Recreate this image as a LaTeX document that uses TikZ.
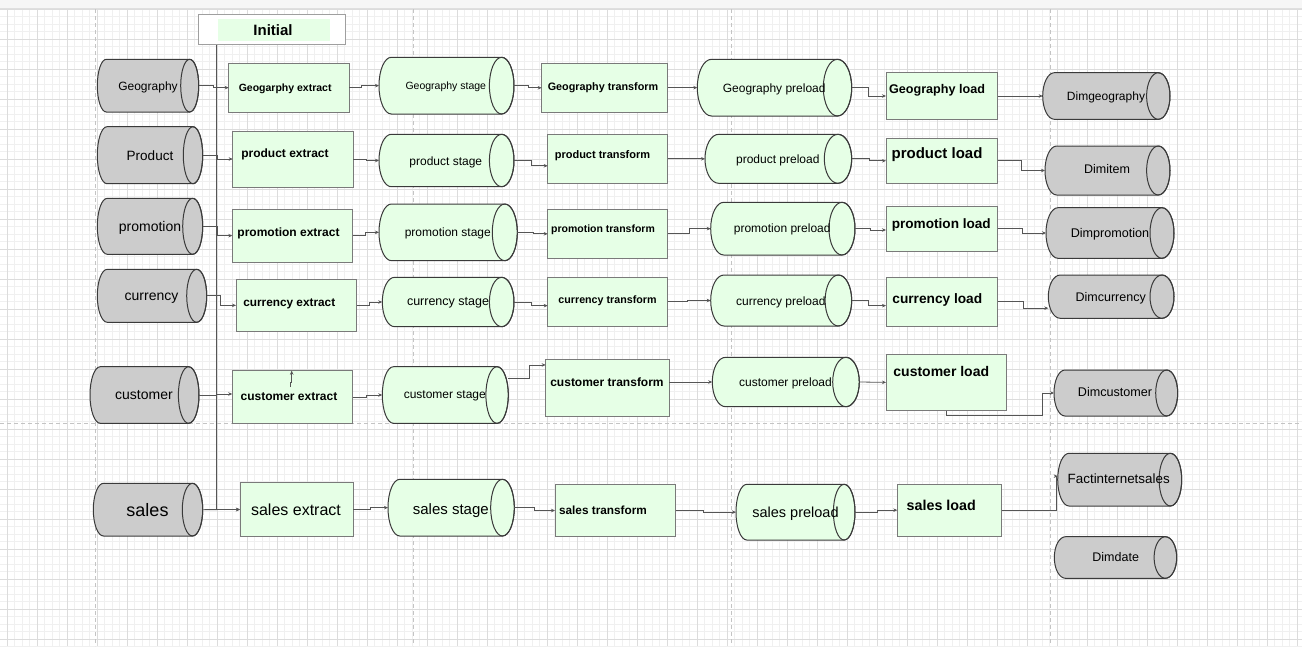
\documentclass[tikz,border=0pt]{standalone}
\usepackage{fontspec}
\setmainfont{Liberation Sans}
\usetikzlibrary{arrows.meta}
\definecolor{cylgray}{HTML}{CCCCCC}
\definecolor{mint}{HTML}{E6FFE6}
\definecolor{edgedark}{HTML}{3A3A3A}
\definecolor{boxedge}{HTML}{7A7A7A}
\definecolor{wire}{HTML}{555555}
\definecolor{gridminor}{HTML}{F0F0F0}
\definecolor{gridmajor}{HTML}{DCDCDC}
\definecolor{pagebreak}{HTML}{C4C4C4}
\newcommand{\fz}[1]{\fontsize{#1}{#1}\selectfont}
\newcommand{\mycyl}[7]{%
  \filldraw[cylline, fill=#7] (#2+#6,#3) -- (#4-#6,#3)
    arc[start angle=270, end angle=450, x radius=#6, y radius={(#5-#3)/2}]
    -- (#2+#6,#5)
    arc[start angle=90, end angle=270, x radius=#6, y radius={(#5-#3)/2}] -- cycle;
  \draw[cylline] (#4-#6,{(#3+#5)/2}) ellipse[x radius=#6, y radius={(#5-#3)/2}];
  \node[cylframe, minimum width={#4-#2}, minimum height={#5-#3}] (#1) at ({(#2+#4)/2},{(#3+#5)/2}) {};
}
\tikzset{
  cylline/.style={draw=edgedark, line width=1pt},
  cylframe/.style={draw=none, rectangle, inner sep=0pt, outer sep=0pt},
  procbox/.style={draw=boxedge, fill=mint, line width=1pt, rectangle, inner sep=0pt, outer sep=0pt},
  lbl/.style={inner sep=0pt, outer sep=0pt, text depth=0pt, anchor=center, text=black},
  conn/.style={draw=wire, line width=0.8pt, -{Stealth[length=4pt,width=3.5pt]}},
  minorline/.style={draw=gridminor, line width=0.6pt},
  majorline/.style={draw=gridmajor, line width=0.8pt},
  breakline/.style={draw=pagebreak, line width=1pt, dash pattern=on 4pt off 3pt}
}
\begin{document}
\begin{tikzpicture}[x=1pt,y=-1pt]
\useasboundingbox (0,0) rectangle (1302,646);
\fill[white] (0,0) rectangle (1302,646);
% grid
\foreach \k in {0,...,174} \draw[minorline] ({-0.5+7.5*\k},9) -- ({-0.5+7.5*\k},646);
\foreach \k in {0,...,85} \draw[minorline] (0,{9+7.5*\k}) -- (1302,{9+7.5*\k});
\foreach \k in {0,...,43} \draw[majorline] ({7+30*\k},9) -- ({7+30*\k},646);
\foreach \k in {0,...,21} \draw[majorline] (0,{9+30*\k}) -- (1302,{9+30*\k});
\fill[gray!7] (0,0) rectangle (1302,8.5);
\draw[gray!25, line width=0.8pt] (0,8.5) -- (1302,8.5);
% page breaks
\foreach \xx in {95,413,731,1050} \draw[breakline] (\xx,9) -- (\xx,646);
\draw[breakline] (0,423) -- (1302,423);

% Initial
\node[draw=gray!75, fill=white, line width=1.2pt, inner sep=0pt, minimum width=146.6, minimum height=30] (ini) at (272,29.3) {};
\fill[mint] (218.3,19.3) rectangle (330,40.7);
\node[lbl, font=\fz{15}\bfseries] (iniT) at (273,30) {Initial};

% source cylinders
\mycyl{srcGeo}{97.3}{59.3}{198.7}{112}{9}{cylgray}
\mycyl{srcPrd}{97.3}{126.7}{202.7}{183.7}{9.7}{cylgray}
\mycyl{srcPrm}{97.3}{198.3}{202.7}{254.3}{10}{cylgray}
\mycyl{srcCur}{97.3}{269.3}{206.7}{322.3}{10}{cylgray}
\mycyl{srcCus}{90}{366.7}{199}{423.3}{10.3}{cylgray}
\mycyl{srcSal}{93.3}{483.3}{202.7}{536}{10.2}{cylgray}
\node[lbl, font=\fz{12}] (srcGeoT) at (148,86) {Geography};
\node[lbl, font=\fz{13.5}] (srcPrdT) at (150,156) {Product};
\node[lbl, font=\fz{14}] (srcPrmT) at (150,226) {promotion};
\node[lbl, font=\fz{14}] (srcCurT) at (151.5,297) {currency};
\node[lbl, font=\fz{14}] (srcCusT) at (144,395) {customer};
\node[lbl, font=\fz{18}] (srcSalT) at (147.5,510) {sales};

% extract boxes
\node[procbox, minimum width=120.6, minimum height=48.7] (extGeo) at (289,87.65) {};
\node[procbox, minimum width=120.6, minimum height=56] (extPrd) at (293,159) {};
\node[procbox, minimum width=120.4, minimum height=52.7] (extPrm) at (292.5,235.65) {};
\node[procbox, minimum width=120.7, minimum height=52.7] (extCur) at (296.35,305.35) {};
\node[procbox, minimum width=120.4, minimum height=52.6] (extCus) at (292.5,397) {};
\node[procbox, minimum width=113.3, minimum height=54.4] (extSal) at (296.65,509.5) {};
\node[lbl, font=\fz{10.5}\bfseries] (extGeoT) at (285.2,87.3) {Geogarphy extract};
\node[lbl, font=\fz{12}\bfseries] (extPrdT) at (285,152.7) {product extract};
\node[lbl, font=\fz{12}\bfseries] (extPrmT) at (288.5,231.7) {promotion extract};
\node[lbl, font=\fz{11.8}\bfseries] (extCurT) at (289.3,302.7) {currency extract};
\node[lbl, font=\fz{12}\bfseries] (extCusT) at (289,396.7) {customer extract};
\node[lbl, font=\fz{16}] (extSalT) at (296,509.3) {sales extract};

% stage cylinders
\mycyl{stgGeo}{379}{57.3}{514}{114}{12.3}{mint}
\mycyl{stgPrd}{379}{134.3}{514}{186.7}{12.3}{mint}
\mycyl{stgPrm}{379}{204}{517.3}{260.7}{12.5}{mint}
\mycyl{stgCur}{382.3}{277.3}{514}{326.7}{12.3}{mint}
\mycyl{stgCus}{382.3}{366.7}{508.3}{423.3}{11.2}{mint}
\mycyl{stgSal}{388}{479.3}{514.3}{536}{11.8}{mint}
\node[lbl, font=\fz{10.5}] (stgGeoT) at (445.8,85.7) {Geography stage};
\node[lbl, font=\fz{12}] (stgPrdT) at (445.8,160.7) {product stage};
\node[lbl, font=\fz{12}] (stgPrmT) at (447.8,232.3) {promotion stage};
\node[lbl, font=\fz{12.5}] (stgCurT) at (448,301.7) {currency stage};
\node[lbl, font=\fz{12}] (stgCusT) at (444.8,395) {customer stage};
\node[lbl, font=\fz{15}] (stgSalT) at (450.8,508.7) {sales stage};

% transform boxes
\node[procbox, minimum width=126, minimum height=49] (trfGeo) at (604.7,87.8) {};
\node[procbox, minimum width=120, minimum height=49] (trfPrd) at (607.7,158.8) {};
\node[procbox, minimum width=120, minimum height=49] (trfPrm) at (607.7,233.8) {};
\node[procbox, minimum width=120, minimum height=48.7] (trfCur) at (607.7,301.65) {};
\node[procbox, minimum width=123.6, minimum height=56.7] (trfCus) at (607.5,387.65) {};
\node[procbox, minimum width=120.7, minimum height=52.4] (trfSal) at (615.35,510.5) {};
\node[lbl, font=\fz{10.8}\bfseries] (trfGeoT) at (603,86.7) {Geography transform};
\node[lbl, font=\fz{11}\bfseries] (trfPrdT) at (602.5,155) {product transform};
\node[lbl, font=\fz{10.5}\bfseries] (trfPrmT) at (603,228.3) {promotion transform};
\node[lbl, font=\fz{10.7}\bfseries] (trfCurT) at (607.5,299.3) {currency transform};
\node[lbl, font=\fz{12}\bfseries] (trfCusT) at (607,381.7) {customer transform};
\node[lbl, font=\fz{11.8}\bfseries] (trfSalT) at (603,510) {sales transform};

% preload cylinders
\mycyl{preGeo}{697.3}{59.3}{851.7}{116}{14.2}{mint}
\mycyl{prePrd}{705}{134.3}{851.7}{183.3}{13.7}{mint}
\mycyl{prePrm}{710.7}{202.3}{855}{255}{13}{mint}
\mycyl{preCur}{710.7}{275}{851.7}{326}{13.3}{mint}
\mycyl{preCus}{712.3}{357.3}{859.3}{406.7}{13.3}{mint}
\mycyl{preSal}{736}{484.3}{855}{540}{10.8}{mint}
\node[lbl, font=\fz{12}] (preGeoT) at (774.2,87.7) {Geography preload};
\node[lbl, font=\fz{12}] (prePrdT) at (777.8,159) {product preload};
\node[lbl, font=\fz{12}] (prePrmT) at (782.2,227.7) {promotion preload};
\node[lbl, font=\fz{12}] (preCurT) at (780.8,300.7) {currency preload};
\node[lbl, font=\fz{12}] (preCusT) at (785.5,381.7) {customer preload};
\node[lbl, font=\fz{14.5}] (preSalT) at (795.5,512) {sales preload};

% load boxes
\node[procbox, minimum width=111.7, minimum height=46.6] (lodGeo) at (941.85,96) {};
\node[procbox, minimum width=111.7, minimum height=45] (lodPrd) at (941.85,160.8) {};
\node[procbox, minimum width=111.7, minimum height=45] (lodPrm) at (941.85,228.5) {};
\node[procbox, minimum width=111.7, minimum height=48.7] (lodCur) at (941.85,301.65) {};
\node[procbox, minimum width=120, minimum height=56.7] (lodCus) at (946,382.35) {};
\node[procbox, minimum width=104.4, minimum height=51.7] (lodSal) at (949.5,510.15) {};
\node[lbl, font=\fz{12.6}\bfseries] (lodGeoT) at (937,89.3) {Geography load};
\node[lbl, font=\fz{15}\bfseries] (lodPrdT) at (937,152.7) {product load};
\node[lbl, font=\fz{13.6}\bfseries] (lodPrmT) at (941.3,224) {promotion load};
\node[lbl, font=\fz{13.7}\bfseries] (lodCurT) at (937.3,299) {currency load};
\node[lbl, font=\fz{14}\bfseries] (lodCusT) at (941.3,371) {customer load};
\node[lbl, font=\fz{14.3}\bfseries] (lodSalT) at (941.3,505.7) {sales load};

% target cylinders
\mycyl{dimGeo}{1042.7}{72.7}{1170}{119.3}{11.7}{cylgray}
\mycyl{dimPrd}{1045}{146}{1170}{195}{11.7}{cylgray}
\mycyl{dimPrm}{1046}{207.7}{1174}{258.3}{12}{cylgray}
\mycyl{dimCur}{1048.3}{275}{1174}{318.3}{12}{cylgray}
\mycyl{dimCus}{1054}{370}{1177.7}{416}{11}{cylgray}
\mycyl{dimFact}{1057.7}{453.3}{1181.7}{506}{11.3}{cylgray}
\mycyl{dimDate}{1054.3}{536.7}{1176.7}{578.3}{11.3}{cylgray}
\node[lbl, font=\fz{12}] (dimGeoT) at (1106,95.7) {Dimgeography};
\node[lbl, font=\fz{12.5}] (dimPrdT) at (1107,169) {Dimitem};
\node[lbl, font=\fz{12.6}] (dimPrmT) at (1110,232.7) {Dimpromotion};
\node[lbl, font=\fz{12.5}] (dimCurT) at (1110.7,296.7) {Dimcurrency};
\node[lbl, font=\fz{12.6}] (dimCusT) at (1115,392) {Dimcustomer};
\node[lbl, font=\fz{13.4}] (dimFactT) at (1118.7,479) {Factinternetsales};
\node[lbl, font=\fz{12.5}] (dimDateT) at (1115.7,556.7) {Dimdate};

% connectors: Geography row
\draw[conn] (srcGeo.east) -- ++(15,0) |- (extGeo.west);
\draw[conn] (extGeo.east) -- ++(12,0) |- (stgGeo.west);
\draw[conn] (stgGeo.east) -- ++(14,0) |- (trfGeo.west);
\draw[conn] (trfGeo.east) -- ++(14,0) |- (preGeo.west);
\draw[conn] (preGeo.east) -- ++(17,0) |- (lodGeo.west);
\draw[conn] (lodGeo.east) -- (dimGeo.west);
% Product row
\draw[conn] (srcPrd.east) -- ++(15,0) |- (extPrd.west);
\draw[conn] (extPrd.east) -- ++(13,0) |- (stgPrd.west);
\draw[conn] (stgPrd.east) -- ++(17,0) |- ([yshift=-7pt]trfPrd.west);
\draw[conn] (trfPrd.east) -- (prePrd.west);
\draw[conn] (prePrd.east) -- ++(18,0) |- (lodPrd.west);
\draw[conn] (lodPrd.east) -- ++(24,0) |- (dimPrd.west);
% promotion row
\draw[conn] (srcPrm.east) -- ++(15,0) |- (extPrm.west);
\draw[conn] (extPrm.east) -- ++(13,0) |- (stgPrm.west);
\draw[conn] (stgPrm.east) -- ++(16,0) |- (trfPrm.west);
\draw[conn] (trfPrm.east) -- ++(22,0) |- (prePrm.west);
\draw[conn] (prePrm.east) -- ++(15,0) |- ([yshift=-1.5pt]lodPrm.west);
\draw[conn] (lodPrm.east) -- ++(25,0) |- (dimPrm.west);
% currency row
\draw[conn] (srcCur.east) -- ++(14,0) |- (extCur.west);
\draw[conn] (extCur.east) -- ++(13,0) |- (stgCur.west);
\draw[conn] (stgCur.east) -- ++(17,0) |- ([yshift=-4pt]trfCur.west);
\draw[conn] (trfCur.east) -- ++(20,0) |- (preCur.west);
\draw[conn] (preCur.east) -- ++(17,0) |- ([yshift=-4pt]lodCur.west);
\draw[conn] (lodCur.east) -- ++(26,0) |- ([yshift=-11.5pt]dimCur.west);
% customer row
\draw[conn] (srcCus.east) -- ++(17,0) |- ([yshift=3pt]extCus.west);
\draw[conn] (extCus.east) -- ++(14,0) |- (stgCus.west);
\draw[conn] ([yshift=17pt]stgCus.east) -- ++(21,0) |- ([yshift=22.7pt]trfCus.west);
\draw[conn] ([yshift=5pt]trfCus.east) -- ++(21,0) |- (preCus.west);
\draw[conn] (preCus.east) -- (lodCus.west);
\draw[conn] (lodCus.south) -- ++(0,5) -- ++(96,0) |- (dimCus.west);
\coordinate (cusStub) at (290,387);
\draw[conn] (cusStub) -- ++(0,-5) -| ([xshift=-0.8pt]extCus.north);
% sales row
\draw[conn] (srcSal.east) -- (extSal.west);
\draw[conn] ([xshift=-56pt]ini.south) |- (extSal.west);
\draw[conn] (extSal.east) -- ++(17,0) |- (stgSal.west);
\draw[conn] (stgSal.east) -- ++(20,0) |- (trfSal.west);
\draw[conn] (trfSal.east) -- ++(28,0) |- (preSal.west);
\draw[conn] (preSal.east) -- ++(22,0) |- (lodSal.west);
\draw[conn] (lodSal.east) -- ++(54.3,0) |- ([yshift=3.5pt]dimFact.west);
\end{tikzpicture}
\end{document}
